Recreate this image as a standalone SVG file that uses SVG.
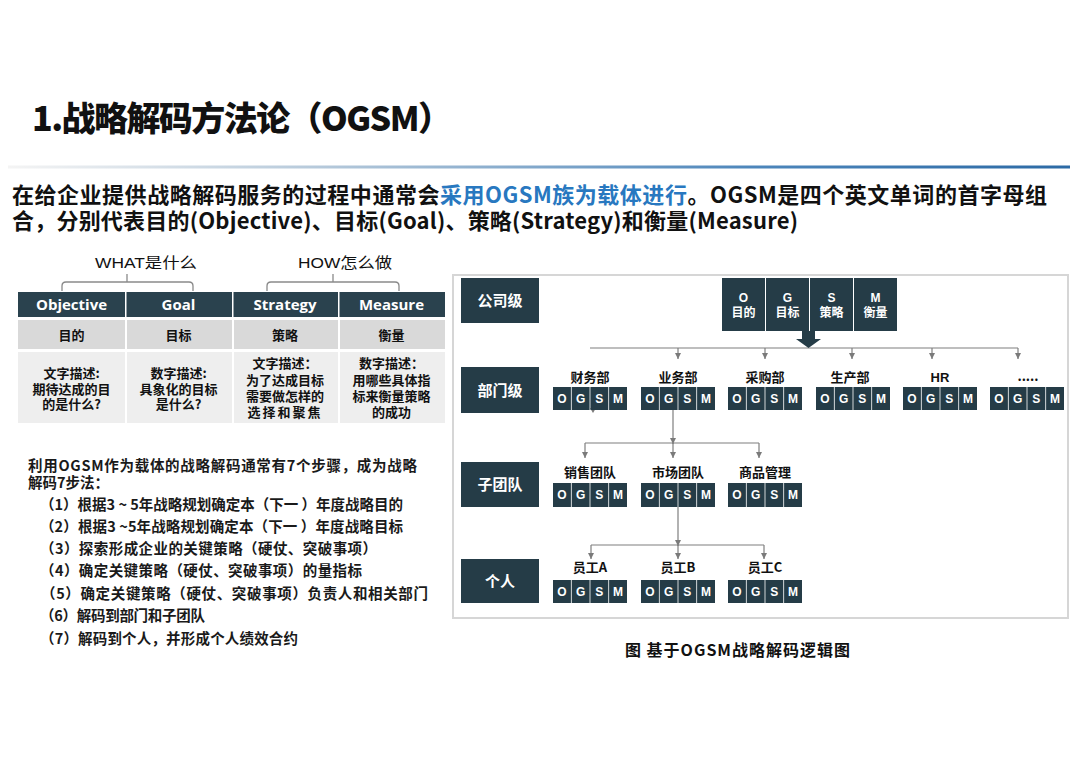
<svg xmlns="http://www.w3.org/2000/svg" width="1080" height="763" viewBox="0 0 1080 763">
<defs>
<linearGradient id="rule" x1="0" x2="1" y1="0" y2="0">
<stop offset="0" stop-color="#f4f4f4"/>
<stop offset="0.3" stop-color="#b4c8da"/>
<stop offset="0.7" stop-color="#4d86bb"/>
<stop offset="1" stop-color="#2c6aa5"/>
</linearGradient>
<marker id="ah" viewBox="0 0 8 8" refX="8" refY="4" markerWidth="6" markerHeight="6" markerUnits="userSpaceOnUse" orient="auto">
<path d="M0,0 L8,4 L0,8 z" fill="#7a7a7a"/>
</marker>
<style>
.cjk{font-family:"Noto Sans CJK SC","Noto Sans",sans-serif;font-weight:700}
.heavy{font-weight:900}
.reg{font-family:"Liberation Sans","Noto Sans CJK SC",sans-serif;font-weight:400}
.dark{fill:#253c47}
.hdr{fill:#2a424e}
.r2{fill:#d9d9d9}
.r3{fill:#eeeeee}
.k{fill:#111111}
.conn{stroke:#7f7f7f;stroke-width:1.2;fill:none}
.brace{stroke:#8a8a8a;stroke-width:1.3;fill:none}
.lt{font-family:"Liberation Sans",Arial,sans-serif;font-weight:700;font-size:12px;fill:#ffffff;text-anchor:middle}
.lbl{font-family:"Noto Sans CJK SC",sans-serif;font-weight:700;font-size:13px;fill:#111111;text-anchor:middle}
.wl{fill:#ffffff;font-size:12px}
.lvl{font-family:"Noto Sans CJK SC",sans-serif;font-weight:700;font-size:15px;fill:#ffffff;text-anchor:middle}
.tbl{font-family:"Noto Sans CJK SC",sans-serif;font-weight:700;font-size:13px;fill:#111111;text-anchor:middle}
.th{font-family:"Open Sans","Noto Sans CJK SC",sans-serif;font-weight:700;font-size:15px;fill:#ffffff;text-anchor:middle}
.step{font-family:"Noto Sans CJK SC",sans-serif;font-weight:700;font-size:14.5px;fill:#1a1a1a}
</style>
</defs>
<rect width="1080" height="763" fill="#ffffff"/>

<g id="title">
<text class="cjk heavy k" x="32" y="131" font-size="34" textLength="420" lengthAdjust="spacing">1.战略解码方法论（OGSM）</text>
<rect x="8" y="165.5" width="1062" height="3" fill="url(#rule)"/>
</g>

<g id="subtitle">
<text class="cjk k" x="12" y="203" font-size="22" textLength="1035" lengthAdjust="spacing">在给企业提供战略解码服务的过程中通常会<tspan fill="#2878c0">采用OGSM族为载体进行</tspan>。OGSM是四个英文单词的首字母组</text>
<text class="cjk k" x="12" y="229" font-size="22" textLength="786" lengthAdjust="spacing">合，分别代表目的(Objective)、目标(Goal)、策略(Strategy)和衡量(Measure)</text>
</g>

<g id="brace-what">
<path class="brace" d="M62,291 V286 Q62,282 66,282 H189 Q193,282 193,286 V291 M127,282 V274"/>
<text class="reg k" x="95" y="268" font-size="15" textLength="102" lengthAdjust="spacingAndGlyphs">WHAT是什么</text>
</g>
<g id="brace-how">
<path class="brace" d="M267,291 V286 Q267,282 271,282 H395 Q399,282 399,286 V291 M333,282 V274"/>
<text class="reg k" x="298" y="268" font-size="15" textLength="94" lengthAdjust="spacingAndGlyphs">HOW怎么做</text>
</g>

<g id="col-objective">
<rect class="hdr" x="18" y="292" width="107" height="25"/>
<text class="th" x="71.5" y="310">Objective</text>
<rect class="r2" x="18" y="320" width="107" height="29"/>
<text class="tbl" x="71.5" y="340" font-size="14.5">目的</text>
<rect class="r3" x="18" y="352" width="107" height="71"/>
<text class="tbl" x="71.5" y="378">文字描述:</text>
<text class="tbl" x="71.5" y="394">期待达成的目</text>
<text class="tbl" x="71.5" y="409">的是什么?</text>
</g>
<g id="col-goal">
<rect class="hdr" x="126.5" y="292" width="105.5" height="25"/>
<text class="th" x="178.5" y="310">Goal</text>
<rect class="r2" x="127" y="320" width="105" height="29"/>
<text class="tbl" x="178.5" y="340" font-size="14.5">目标</text>
<rect class="r3" x="127" y="352" width="105" height="71"/>
<text class="tbl" x="178.5" y="378">数字描述:</text>
<text class="tbl" x="178.5" y="394">具象化的目标</text>
<text class="tbl" x="178.5" y="409">是什么?</text>
</g>
<g id="col-strategy">
<rect class="hdr" x="233.5" y="292" width="104.5" height="25"/>
<text class="th" x="285" y="310">Strategy</text>
<rect class="r2" x="234" y="320" width="104" height="29"/>
<text class="tbl" x="285" y="340" font-size="14.5">策略</text>
<rect class="r3" x="234" y="352" width="104" height="71"/>
<text class="tbl" x="285" y="368">文字描述：</text>
<text class="tbl" x="285" y="385">为了达成目标</text>
<text class="tbl" x="285" y="401">需要做怎样的</text>
<text class="tbl" x="285" y="417" letter-spacing="2">选择和聚焦</text>
</g>
<g id="col-measure">
<rect class="hdr" x="339.5" y="292" width="105.5" height="25"/>
<text class="th" x="391.5" y="310">Measure</text>
<rect class="r2" x="340" y="320" width="105" height="29"/>
<text class="tbl" x="391.5" y="340" font-size="14.5">衡量</text>
<rect class="r3" x="340" y="352" width="105" height="71"/>
<text class="tbl" x="391.5" y="368">数字描述：</text>
<text class="tbl" x="391.5" y="385">用哪些具体指</text>
<text class="tbl" x="391.5" y="401">标来衡量策略</text>
<text class="tbl" x="391.5" y="417">的成功</text>
</g>

<g id="steps">
<text class="step" x="28" y="470.5" textLength="389" lengthAdjust="spacing">利用OGSM作为载体的战略解码通常有7个步骤，成为战略</text>
<text class="step" x="28" y="487.5">解码7步法：</text>
<text class="step" x="40" y="509.5" textLength="363" lengthAdjust="spacing">（1）根据3 ~ 5年战略规划确定本（下一 ）年度战略目的</text>
<text class="step" x="40" y="531.5" textLength="363" lengthAdjust="spacing">（2）根据3 ~5年战略规划确定本（下一 ）年度战略目标</text>
<text class="step" x="40" y="553.5" textLength="337" lengthAdjust="spacing">（3）探索形成企业的关键策略（硬仗、突破事项）</text>
<text class="step" x="40" y="575.5" textLength="322" lengthAdjust="spacing">（4）确定关键策略（硬仗、突破事项）的量指标</text>
<text class="step" x="41" y="598.5" textLength="387" lengthAdjust="spacing">（5）确定关键策略（硬仗、突破事项）负责人和相关部门</text>
<text class="step" x="40" y="620.5" textLength="165" lengthAdjust="spacing">（6）解码到部门和子团队</text>
<text class="step" x="40" y="643.5" textLength="258" lengthAdjust="spacing">（7）解码到个人，并形成个人绩效合约</text>
</g>

<rect id="panel" x="453" y="275" width="615" height="343" fill="#ffffff" stroke="#d6d6d6" stroke-width="2"/>

<g id="lvl-company"><rect class="dark" x="461" y="278" width="78" height="45"/><text class="lvl" x="500" y="305.5">公司级</text></g>
<g id="lvl-dept"><rect class="dark" x="461" y="367" width="78" height="46"/><text class="lvl" x="500" y="395.5">部门级</text></g>
<g id="lvl-team"><rect class="dark" x="461" y="462" width="78" height="45"/><text class="lvl" x="500" y="490">子团队</text></g>
<g id="lvl-person"><rect class="dark" x="461" y="559" width="78" height="44"/><text class="lvl" x="500" y="586.5">个人</text></g>

<g id="company-ogsm">
<rect class="dark" x="722" y="278" width="43" height="53"/>
<rect class="dark" x="766" y="278" width="43" height="53"/>
<rect class="dark" x="810" y="278" width="43" height="53"/>
<rect class="dark" x="854" y="278" width="43" height="53"/>
<text class="lt" x="743.5 787.5 831.5 875.5" y="302">OGSM</text>
<text class="lbl wl" x="743.5" y="317">目的</text>
<text class="lbl wl" x="787.5" y="317">目标</text>
<text class="lbl wl" x="831.5" y="317">策略</text>
<text class="lbl wl" x="875.5" y="317">衡量</text>
</g>

<g id="connectors">
<path class="conn" d="M590,348 H1018"/>
<path class="conn" marker-end="url(#ah)" d="M678,348 V359"/>
<path class="conn" marker-end="url(#ah)" d="M765,348 V359"/>
<path class="conn" marker-end="url(#ah)" d="M852,348 V359"/>
<path class="conn" marker-end="url(#ah)" d="M932,348 V359"/>
<path class="conn" marker-end="url(#ah)" d="M1018,348 V359"/>
<polygon points="802,331 815,331 815,339 821,339 808.5,348 796,339 802,339" fill="#253c47"/>
<polygon points="590,408 596,408 593,413" fill="#7a7a7a"/>
<path class="conn" marker-end="url(#ah)" d="M673,410 V444"/>
<path class="conn" d="M585,443 H759"/>
<path class="conn" marker-end="url(#ah)" d="M585,443 V458"/>
<path class="conn" marker-end="url(#ah)" d="M673,443 V458"/>
<path class="conn" marker-end="url(#ah)" d="M759,443 V458"/>
<path class="conn" marker-end="url(#ah)" d="M678,507 V546"/>
<path class="conn" d="M591,545 H764"/>
<path class="conn" marker-end="url(#ah)" d="M591,545 V559"/>
<path class="conn" marker-end="url(#ah)" d="M678,545 V559"/>
<path class="conn" marker-end="url(#ah)" d="M764,545 V559"/>
</g>

<g id="dept-caiwu">
<text class="lbl" x="590" y="382">财务部</text>
<rect class="dark" x="553" y="387" width="17.9" height="23"/><rect class="dark" x="571.7" y="387" width="17.9" height="23"/><rect class="dark" x="590.4" y="387" width="17.9" height="23"/><rect class="dark" x="609.1" y="387" width="17.9" height="23"/>
<text class="lt" x="561.9 580.6 599.3 618" y="402.5">OGSM</text>
</g>
<g id="dept-yewu">
<text class="lbl" x="678" y="382">业务部</text>
<rect class="dark" x="641" y="387" width="17.9" height="23"/><rect class="dark" x="659.7" y="387" width="17.9" height="23"/><rect class="dark" x="678.4" y="387" width="17.9" height="23"/><rect class="dark" x="697.1" y="387" width="17.9" height="23"/>
<text class="lt" x="649.9 668.6 687.3 706" y="402.5">OGSM</text>
</g>
<g id="dept-caigou">
<text class="lbl" x="765" y="382">采购部</text>
<rect class="dark" x="728" y="387" width="17.9" height="23"/><rect class="dark" x="746.7" y="387" width="17.9" height="23"/><rect class="dark" x="765.4" y="387" width="17.9" height="23"/><rect class="dark" x="784.1" y="387" width="17.9" height="23"/>
<text class="lt" x="736.9 755.6 774.3 793" y="402.5">OGSM</text>
</g>
<g id="dept-shengchan">
<text class="lbl" x="850" y="382">生产部</text>
<rect class="dark" x="816" y="387" width="17.9" height="23"/><rect class="dark" x="834.7" y="387" width="17.9" height="23"/><rect class="dark" x="853.4" y="387" width="17.9" height="23"/><rect class="dark" x="872.1" y="387" width="17.9" height="23"/>
<text class="lt" x="824.9 843.6 862.3 881" y="402.5">OGSM</text>
</g>
<g id="dept-hr">
<text class="lbl" x="940" y="382" style="font-family:'Liberation Sans',Arial,sans-serif">HR</text>
<rect class="dark" x="903" y="387" width="17.9" height="23"/><rect class="dark" x="921.7" y="387" width="17.9" height="23"/><rect class="dark" x="940.4" y="387" width="17.9" height="23"/><rect class="dark" x="959.1" y="387" width="17.9" height="23"/>
<text class="lt" x="911.9 930.6 949.3 968" y="402.5">OGSM</text>
</g>
<g id="dept-more">
<text class="lbl" x="1028" y="381" font-size="10">.....</text>
<rect class="dark" x="990" y="387" width="17.9" height="23"/><rect class="dark" x="1008.7" y="387" width="17.9" height="23"/><rect class="dark" x="1027.4" y="387" width="17.9" height="23"/><rect class="dark" x="1046.1" y="387" width="17.9" height="23"/>
<text class="lt" x="998.9 1017.6 1036.3 1055" y="402.5">OGSM</text>
</g>

<g id="team-xiaoshou">
<text class="lbl" x="590" y="477">销售团队</text>
<rect class="dark" x="553" y="483" width="17.9" height="24"/><rect class="dark" x="571.7" y="483" width="17.9" height="24"/><rect class="dark" x="590.4" y="483" width="17.9" height="24"/><rect class="dark" x="609.1" y="483" width="17.9" height="24"/>
<text class="lt" x="561.9 580.6 599.3 618" y="499">OGSM</text>
</g>
<g id="team-shichang">
<text class="lbl" x="678" y="477">市场团队</text>
<rect class="dark" x="641" y="483" width="17.9" height="24"/><rect class="dark" x="659.7" y="483" width="17.9" height="24"/><rect class="dark" x="678.4" y="483" width="17.9" height="24"/><rect class="dark" x="697.1" y="483" width="17.9" height="24"/>
<text class="lt" x="649.9 668.6 687.3 706" y="499">OGSM</text>
</g>
<g id="team-shangpin">
<text class="lbl" x="765" y="477">商品管理</text>
<rect class="dark" x="728" y="483" width="17.9" height="24"/><rect class="dark" x="746.7" y="483" width="17.9" height="24"/><rect class="dark" x="765.4" y="483" width="17.9" height="24"/><rect class="dark" x="784.1" y="483" width="17.9" height="24"/>
<text class="lt" x="736.9 755.6 774.3 793" y="499">OGSM</text>
</g>

<g id="person-a">
<text class="lbl" x="590" y="572">员工A</text>
<rect class="dark" x="553" y="580" width="17.9" height="23"/><rect class="dark" x="571.7" y="580" width="17.9" height="23"/><rect class="dark" x="590.4" y="580" width="17.9" height="23"/><rect class="dark" x="609.1" y="580" width="17.9" height="23"/>
<text class="lt" x="561.9 580.6 599.3 618" y="595.5">OGSM</text>
</g>
<g id="person-b">
<text class="lbl" x="678" y="572">员工B</text>
<rect class="dark" x="641" y="580" width="17.9" height="23"/><rect class="dark" x="659.7" y="580" width="17.9" height="23"/><rect class="dark" x="678.4" y="580" width="17.9" height="23"/><rect class="dark" x="697.1" y="580" width="17.9" height="23"/>
<text class="lt" x="649.9 668.6 687.3 706" y="595.5">OGSM</text>
</g>
<g id="person-c">
<text class="lbl" x="765" y="572">员工C</text>
<rect class="dark" x="728" y="580" width="17.9" height="23"/><rect class="dark" x="746.7" y="580" width="17.9" height="23"/><rect class="dark" x="765.4" y="580" width="17.9" height="23"/><rect class="dark" x="784.1" y="580" width="17.9" height="23"/>
<text class="lt" x="736.9 755.6 774.3 793" y="595.5">OGSM</text>
</g>

<g id="caption">
<text class="cjk k" x="625" y="656" font-size="16" textLength="225" lengthAdjust="spacing">图 基于OGSM战略解码逻辑图</text>
</g>
</svg>
